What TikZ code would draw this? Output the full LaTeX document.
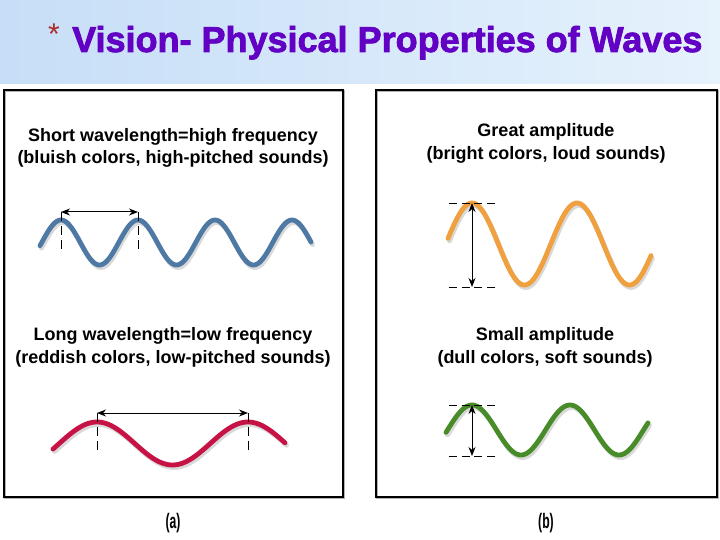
\documentclass[tikz,border=0pt]{standalone}
\usepackage{fontspec}
\setmainfont{Liberation Sans}
\newfontfamily\titlefont[FakeBold=2.2]{Liberation Sans Bold}
\usepackage{tikz}
\usetikzlibrary{arrows.meta, positioning}

\definecolor{titlepurple}{RGB}{98,0,196}
\definecolor{starred}{RGB}{176,42,42}
\definecolor{bandleft}{RGB}{198,222,247}
\definecolor{bandright}{RGB}{230,242,252}
\definecolor{bluewave}{RGB}{78,121,165}
\definecolor{redwave}{RGB}{198,18,68}
\definecolor{orangewave}{RGB}{240,160,62}
\definecolor{greenwave}{RGB}{72,140,42}

\tikzset{
  panel/.style={draw=black, line width=1.4pt},
  panelshadow/.style={draw=gray!60, line width=1.4pt},
  label/.style={font=\fontsize{18}{22.5}\selectfont\bfseries, align=center},
  caption/.style={font=\fontsize{21}{24}\selectfont\bfseries},
  wave/.style={line width=4.8pt, line cap=round},
  waveshadow/.style={line width=4.8pt, line cap=round, draw=gray!30},
  guide/.style={line width=0.9pt, dash pattern=on 9pt off 5pt},
  level/.style={line width=0.9pt, dash pattern=on 8pt off 4.5pt},
  span/.style={line width=1pt, {Stealth[length=9pt,width=7pt]}-{Stealth[length=9pt,width=7pt]}}
}

\begin{document}
\begin{tikzpicture}[x=1pt,y=-1pt]
\useasboundingbox (0,0) rectangle (720,540);
\fill[white] (0,0) rectangle (720,540);

% title band
\shade[left color=bandleft, right color=bandright] (0,0) rectangle (720,84);
\node[font=\fontsize{30}{36}\selectfont, text=starred, anchor=base] (star) at (54,45) {*};
\node[font=\fontsize{36}{40}\selectfont\titlefont, text=titlepurple, anchor=base west, inner sep=0pt] (title) at (72,52) {Vision- Physical Properties of Waves};

% panels
\draw[panelshadow] (5,91) rectangle (344,498);
\draw[panel] (4,90) rectangle (343,497);
\draw[panelshadow] (377,91) rectangle (718,498);
\draw[panel] (376,90) rectangle (717,497);

% texts
\node[label] (shorttxt) at (173,148) {Short wavelength=high frequency\\(bluish colors, high-pitched sounds)};
\node[label] (greattxt) at (546,143.5) {Great amplitude\\(bright colors, loud sounds)};
\node[label] (longtxt) at (173,347.5) {Long wavelength=low frequency\\(reddish colors, low-pitched sounds)};
\node[label] (smalltxt) at (545,347.5) {Small amplitude\\(dull colors, soft sounds)};

% captions
\node[caption] (capa) at (173,523) {\scalebox{0.58}[1]{(a)}};
\node[caption] (capb) at (546,523) {\scalebox{0.58}[1]{(b)}};

% short wavelength (blue)
\draw[waveshadow] plot[domain=40:311, samples=150, shift={(1.5,2.5)}] (\x, {242.5-22.5*cos((\x-61)/77*360)});
\draw[wave, bluewave] plot[domain=40:311, samples=150] (\x, {242.5-22.5*cos((\x-61)/77*360)});
\coordinate (bluea) at (61,212);
\coordinate (blueb) at (138,212);
\coordinate (blueafoot) at (61,252);
\coordinate (bluebfoot) at (138,252);
\draw[guide] (bluea) -- (blueafoot);
\draw[guide] (blueb) -- (bluebfoot);
\draw[span] (bluea) -- (blueb);

% long wavelength (red)
\draw[waveshadow] plot[domain=53:285, samples=150, shift={(1.5,2.5)}] (\x, {443.5-21.5*cos((\x-97)/151*360)});
\draw[wave, redwave] plot[domain=53:285, samples=150] (\x, {443.5-21.5*cos((\x-97)/151*360)});
\coordinate (reda) at (97,413);
\coordinate (redb) at (248,413);
\coordinate (redafoot) at (97,452);
\coordinate (redbfoot) at (248,452);
\draw[guide] (reda) -- (redafoot);
\draw[guide] (redb) -- (redbfoot);
\draw[span] (reda) -- (redb);

% great amplitude (orange)
\draw[waveshadow] plot[domain=448:651, samples=150, shift={(1.5,2.5)}] (\x, {244-41*cos((\x-472)/105*360)});
\draw[wave, orangewave] plot[domain=448:651, samples=150] (\x, {244-41*cos((\x-472)/105*360)});
\coordinate (orangetopl) at (449,203);
\coordinate (orangetopr) at (497,203);
\coordinate (orangebotl) at (449,287);
\coordinate (orangebotr) at (497,287);
\coordinate (orangetop) at (472,203);
\coordinate (orangebot) at (472,287);
\draw[level] (orangetopl) -- (orangetopr);
\draw[level] (orangebotl) -- (orangebotr);
\draw[span] (orangetop) -- (orangebot);

% small amplitude (green)
\draw[waveshadow] plot[domain=446:648, samples=150, shift={(1.5,2.5)}] (\x, {430-25*cos((\x-472)/98*360)});
\draw[wave, greenwave] plot[domain=446:648, samples=150] (\x, {430-25*cos((\x-472)/98*360)});
\coordinate (greentopl) at (449,405);
\coordinate (greentopr) at (497,405);
\coordinate (greenbotl) at (449,456);
\coordinate (greenbotr) at (497,456);
\coordinate (greentop) at (472,405);
\coordinate (greenbot) at (472,456);
\draw[level] (greentopl) -- (greentopr);
\draw[level] (greenbotl) -- (greenbotr);
\draw[span] (greentop) -- (greenbot);
\end{tikzpicture}
\end{document}
